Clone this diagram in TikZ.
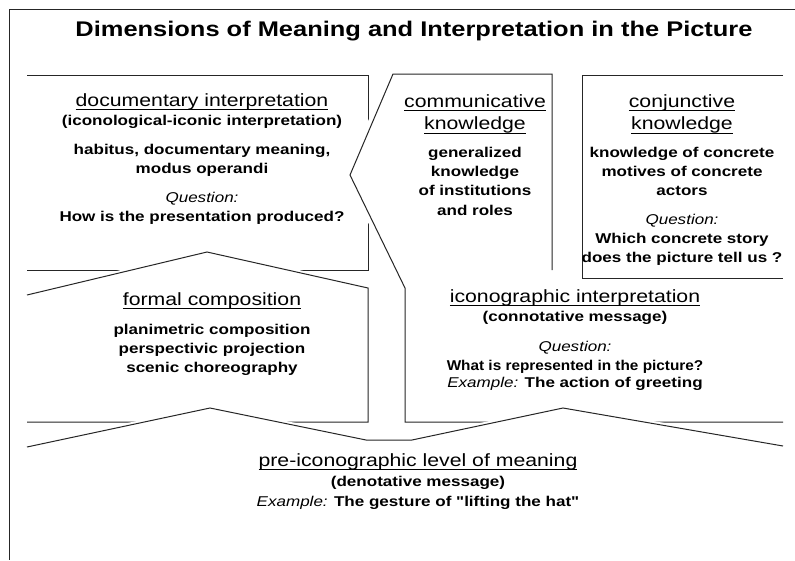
\documentclass[tikz,border=0pt]{standalone}
\usepackage{fontspec}
\setmainfont{Liberation Sans}[FakeStretch = 1.2, Ligatures = TeXOff]
\usepackage{tikz}
\usetikzlibrary{positioning}
\newsavebox{\headbox}
\newcommand{\bodyfont}{\fontsize{14.2}{19.3}\selectfont\bfseries}
\newcommand{\titlefont}{\fontsize{21.2}{24}\selectfont\bfseries}
\newcommand{\heading}[1]{{\fontsize{17.7}{19.3}\selectfont\mdseries
    \sbox{\headbox}{#1}\rlap{\rule[-3.8pt]{\wd\headbox}{1pt}}\usebox{\headbox}}}
\newcommand{\ask}[1]{{\mdseries\itshape #1}}
\tikzstyle{panel line} = [line width = 1pt, black!85]
\tikzstyle{halo} = [white, line width = 5pt]
\tikzstyle{panel text} = [align = center, inner sep = 0, anchor = north, font = \bodyfont]
\tikzstyle{title text} = [inner sep = 0, anchor = base, font = \titlefont]

\begin{document}
\begin{tikzpicture}[x = 1pt, y = -1pt,
                    wide halo/.style = {halo, line width = 9pt},
                   ]
    \useasboundingbox (0, 0) rectangle (795, 560);

    % outer frame
    \draw [panel line] (795, 9) -- (9, 9) -- (9, 560);

    % documentary interpretation
    \draw [panel line] (27, 75) -- (368, 75) -- (368, 270) -- (27, 270);

    % communicative knowledge and iconographic interpretation
    \fill [white] (393, 74) -- (552, 74) -- (552, 288) -- (783, 288) -- (783, 422)
        -- (405, 422) -- (405, 288) -- (350, 175) -- cycle;
    \draw [wide halo] (393, 74) -- (350, 175) -- (405, 288);
    \draw [panel line] (552, 270) -- (552, 74) -- (393, 74) -- (350, 175)
        -- (405, 288) -- (405, 422) -- (783, 422);

    % conjunctive knowledge
    \draw [panel line] (783, 75) -- (582, 75) -- (582, 278) -- (783, 278);

    % formal composition
    \fill [white] (27, 295) -- (207, 252) -- (368, 288) -- (368, 422) -- (27, 422) -- cycle;
    \draw [halo] (27, 295) -- (207, 252) -- (368, 288);
    \draw [panel line] (27, 295) -- (207, 252) -- (368, 288) -- (368, 422) -- (27, 422);

    % pre-iconographic level
    \fill [white] (27, 447) -- (210, 408) -- (366, 440) -- (412, 440) -- (563, 408)
        -- (783, 446) -- (783, 560) -- (27, 560) -- cycle;
    \draw [halo] (27, 447) -- (210, 408) -- (366, 440) -- (412, 440) -- (563, 408) -- (783, 446);
    \draw [panel line] (27, 447) -- (210, 408) -- (366, 440) -- (412, 440) -- (563, 408) -- (783, 446);

    \node [title text] (title) at (414, 36.5)
        {Dimensions of Meaning and Interpretation in the Picture};

    \node [panel text] (text_doc) at (202, 93)
        {\heading{documentary interpretation}\\
         (iconological-iconic interpretation)\\[10pt]
         habitus, documentary meaning,\\
         modus operandi\\[9pt]
         \ask{Question:}\\
         How is the presentation produced?};

    \node [panel text] (text_comm) at (475, 94.5)
        {\heading{communicative}\\[3pt]
         \heading{knowledge}\\[8pt]
         generalized\\
         knowledge\\
         of institutions\\
         and roles};

    \node [panel text] (text_conj) at (682, 94.5)
        {\heading{conjunctive}\\[3pt]
         \heading{knowledge}\\[8pt]
         knowledge of concrete\\
         motives of concrete\\
         actors\\[9pt]
         \ask{Question:}\\
         Which concrete story\\
         does the picture tell us ?};

    \node [panel text] (text_formal) at (212, 292)
        {\heading{formal composition}\\[10pt]
         planimetric composition\\
         perspectivic projection\\
         scenic choreography};

    \node [panel text] (text_icono) at (575, 289.5)
        {\heading{iconographic interpretation}\\
         (connotative message)\\[10pt]
         \ask{Question:}\\
         \scalebox{0.9}[1]{What is represented in the picture?}\\[-2pt]
         \ask{Example:} The action of greeting};

    \node [panel text] (text_pre) at (418, 453.5)
        {\heading{pre-iconographic level of meaning}\\[1pt]
         (denotative message)\\
         \ask{Example:} The gesture of "lifting the hat"};
\end{tikzpicture}
\end{document}
